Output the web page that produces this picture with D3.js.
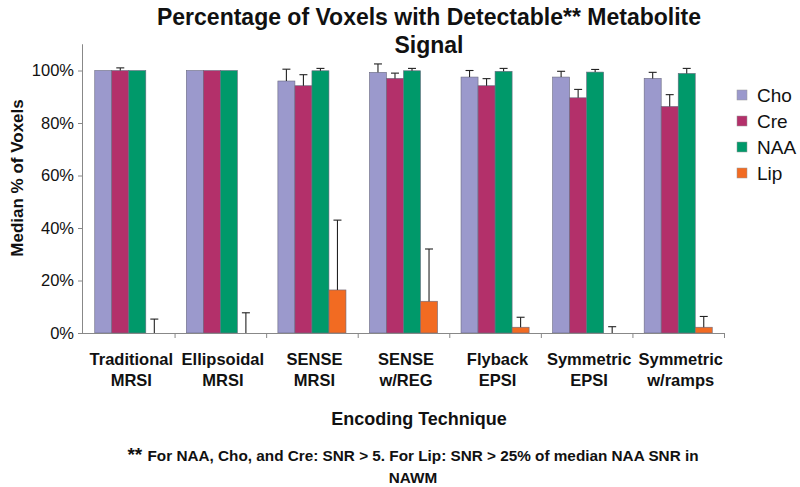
<!DOCTYPE html>
<html><head><meta charset="utf-8">
<script src="https://cdn.jsdelivr.net/npm/d3@7"></script>
<style>body{margin:0;background:#fff;font-family:"Liberation Sans",Arial,sans-serif;}</style>
</head><body><svg id="c" width="800" height="487"></svg>
<script>
const categories = [["Traditional","MRSI"],["Ellipsoidal","MRSI"],["SENSE","MRSI"],["SENSE","w/REG"],["Flyback","EPSI"],["Symmetric","EPSI"],["Symmetric","w/ramps"]];
const seriesNames = ["Cho","Cre","NAA","Lip"];
const seriesColors = ["#9b99cc","#b3306a","#00996a","#f26b22"];
const cho = [100, 100, 96, 99.3, 97.5, 97.5, 97];
const choErr = [100, 100, 100.5, 102.5, 100, 99.7, 99.3];
const cre = [100, 100, 94.2, 97, 94.2, 89.6, 86.3];
const creErr = [101, 100, 98.4, 99, 96.9, 92.8, 90.8];
const naa = [100, 100, 99.9, 99.9, 99.7, 99.4, 98.9];
const naaErr = [100, 100, 100.8, 100.8, 100.8, 100.4, 100.8];
const lip = [0, 0, 16.4, 12.1, 2.2, 0, 2.2];
const lipErr = [5.3, 7.7, 43, 32, 6, 2.4, 6.3];
const yTicks = [0, 20, 40, 60, 80, 100];

(function () {
const values = [cho, cre, naa, lip];
const errs = [choErr, creErr, naaErr, lipErr];

const svg = d3.select("#c");
const mLeft = 83, mRight = 724, mTop = 44.25, mBottom = 333;
const x = d3.scaleBand().domain(d3.range(categories.length)).range([mLeft, mRight]).paddingInner(0).paddingOuter(0);
const inner = d3.scaleBand().domain(d3.range(seriesNames.length)).range([0, x.bandwidth()]).paddingOuter(0.69).paddingInner(0);
const y = d3.scaleLinear().domain([0, 110]).range([mBottom, mTop]);

// bars
seriesNames.forEach((s, si) => {
  svg.append("g").selectAll("rect").data(values[si]).join("rect")
    .attr("x", (d, i) => x(i) + inner(si))
    .attr("y", d => y(d))
    .attr("width", inner.bandwidth())
    .attr("height", d => y(0) - y(d))
    .attr("fill", seriesColors[si])
    .attr("stroke", d => d > 0 ? "#6a6a80" : "none")
    .attr("stroke-width", 0.6);
  const g = svg.append("g").attr("stroke", "#222").attr("stroke-width", 1.1);
  values[si].forEach((v, i) => {
    const cx = x(i) + inner(si) + inner.bandwidth() / 2;
    const e = errs[si][i];
    if (e <= v) return;
    g.append("line").attr("x1", cx).attr("x2", cx).attr("y1", y(v)).attr("y2", y(e));
    g.append("line").attr("x1", cx - 4).attr("x2", cx + 4).attr("y1", y(e)).attr("y2", y(e));
  });
});

// y axis
const yAxis = svg.append("g").attr("transform", `translate(${mLeft},0)`)
  .call(d3.axisLeft(y).tickValues(yTicks).tickSize(5).tickPadding(4).tickFormat(d => d + "%"));
yAxis.select(".domain").attr("stroke", "#888").attr("d", `M-0.5,${mBottom}V${mTop}`);
yAxis.selectAll(".tick line").attr("stroke", "#888");
yAxis.selectAll(".tick text").attr("font-size", 16.5).attr("fill", "#111").attr("font-family", "Liberation Sans, Arial, sans-serif");

// x axis
const xAxis = svg.append("g").attr("transform", `translate(0,${mBottom})`)
  .call(d3.axisBottom(d3.scaleLinear().domain([0, categories.length]).range([mLeft, mRight]))
    .tickValues(d3.range(1, categories.length + 1)).tickSize(5).tickFormat(""));
xAxis.select(".domain").attr("stroke", "#888").attr("d", `M${mLeft},0.5H${mRight}`);
xAxis.selectAll(".tick line").attr("stroke", "#888");

// category labels
categories.forEach((c, i) => {
  const cx = x(i) + x.bandwidth() / 2 + 2.5;
  const t = svg.append("text").attr("x", cx).attr("y", 365)
    .attr("text-anchor", "middle").attr("font-weight", "bold").attr("font-size", 16.5).attr("fill", "#111");
  t.append("tspan").attr("x", cx).attr("dy", 0).text(c[0]);
  t.append("tspan").attr("x", cx).attr("dy", 21).text(c[1]);
});

// titles
svg.append("text").attr("x", 429).attr("y", 25).attr("text-anchor", "middle").attr("font-weight", "bold").attr("font-size", 23).attr("fill", "#111").text("Percentage of Voxels with Detectable** Metabolite");
svg.append("text").attr("x", 429).attr("y", 53).attr("text-anchor", "middle").attr("font-weight", "bold").attr("font-size", 23).attr("fill", "#111").text("Signal");
svg.append("text").attr("x", 419).attr("y", 425).attr("text-anchor", "middle").attr("font-weight", "bold").attr("font-size", 18).attr("fill", "#111").text("Encoding Technique");
svg.append("text").attr("transform", "translate(23,178) rotate(-90)").attr("text-anchor", "middle").attr("font-weight", "bold").attr("font-size", 17).attr("fill", "#111").text("Median % of Voxels");

const fn = svg.append("text").attr("x", 413).attr("y", 461).attr("text-anchor", "middle").attr("font-weight", "bold").attr("font-size", 15.3).attr("fill", "#111");
fn.append("tspan").attr("font-size", 19).text("** ");
fn.append("tspan").text("For NAA, Cho, and Cre: SNR > 5. For Lip: SNR > 25% of median NAA SNR in");
svg.append("text").attr("x", 413).attr("y", 483).attr("text-anchor", "middle").attr("font-weight", "bold").attr("font-size", 15.3).attr("fill", "#111").text("NAWM");

// legend
const lg = svg.append("g").attr("transform", "translate(737,90)");
seriesNames.forEach((s, i) => {
  lg.append("rect").attr("x", 0).attr("y", i * 26).attr("width", 10).attr("height", 10).attr("fill", seriesColors[i]).attr("stroke", "#999").attr("stroke-width", 0.5);
  lg.append("text").attr("x", 20).attr("y", i * 26 + 12).attr("font-size", 19).attr("fill", "#111").text(s);
});
})();
</script></body></html>
